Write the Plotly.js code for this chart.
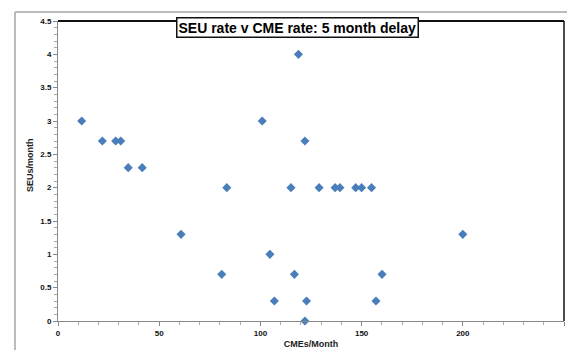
<!DOCTYPE html>
<html><head><meta charset="utf-8">
<script src="https://cdn.plot.ly/plotly-3.0.1.min.js"></script>
<style>html,body{margin:0;padding:0;background:#fff}#chart{width:567px;height:350px}</style>
</head><body><div id="chart"></div>
<script>
const cmeRate = [11.7, 21.9, 28.5, 31, 34.7, 41.6, 60.8, 80.9, 83.4, 100.9, 104.7, 106.9, 115.1, 116.8, 118.8, 122, 122, 122.8, 129, 136.9, 139.3, 147.1, 150, 154.9, 157.1, 160.1, 200];
const seuRate = [3.0, 2.7, 2.7, 2.7, 2.3, 2.3, 1.3, 0.7, 2.0, 3.0, 1.0, 0.3, 2.0, 0.7, 4.0, 2.7, 0.0, 0.3, 2.0, 2.0, 2.0, 2.0, 2.0, 2.0, 0.3, 0.7, 1.3];
const xTicks = [0, 50, 100, 150, 200, 250];
const yTicks = [0, 0.5, 1, 1.5, 2, 2.5, 3, 3.5, 4, 4.5];
const titleText = 'SEU rate v CME rate: 5 month delay';
const xTitle = 'CMEs/Month';
const yTitle = 'SEUs/month';

const trace = {
  x: cmeRate, y: seuRate, type: 'scatter', mode: 'markers',
  marker: {symbol: 'diamond', size: 7, color: '#4a7ebb'},
  cliponaxis: false, hoverinfo: 'none'
};
const fam = 'Liberation Sans, Arial, sans-serif';
const tickFont = {family: fam, size: 8, color: '#111', weight: 'bold'};
const layout = {
  width: 567, height: 350,
  margin: {l: 58, r: 3, t: 21, b: 29},
  paper_bgcolor: '#fff', plot_bgcolor: '#fff',
  showlegend: false,
  xaxis: {
    range: [0, 250], tickvals: xTicks, ticktext: xTicks.map(String),
    ticks: 'outside', ticklen: 4, tickcolor: '#888', tickwidth: 1,
    minor: {dtick: 10, ticks: 'outside', ticklen: 3, tickcolor: '#aaa'},
    showgrid: false, zeroline: false, showline: true, linecolor: '#888', linewidth: 1,
    tickfont: tickFont,
    title: {text: xTitle, font: {family: fam, size: 9, color: '#222', weight: 'bold'}, standoff: 4}
  },
  yaxis: {
    range: [0, 4.5], tickvals: yTicks, ticktext: yTicks.map(String),
    ticks: 'outside', ticklen: 4, tickcolor: '#888', tickwidth: 1,
    minor: {dtick: 0.1, ticks: 'outside', ticklen: 3, tickcolor: '#aaa'},
    showgrid: false, zeroline: false, showline: true, linecolor: '#888', linewidth: 1,
    tickfont: tickFont
  },
  shapes: [
    {type: 'line', xref: 'paper', yref: 'paper', x0: 0, x1: 1, y0: 1, y1: 1, line: {color: '#111', width: 2}},
    {type: 'line', xref: 'paper', yref: 'paper', x0: 1, x1: 1, y0: 0, y1: 1, line: {color: '#111', width: 1.5}},
    {type: 'line', xref: 'paper', yref: 'paper', x0: -0.085, x1: 1.01, y0: 1.03, y1: 1.03, line: {color: '#bbb', width: 2}},
    {type: 'line', xref: 'paper', yref: 'paper', x0: -0.085, x1: -0.085, y0: 1.03, y1: -0.1, line: {color: '#bbb', width: 2}}
  ],
  annotations: [{
    text: titleText, xref: 'paper', yref: 'paper', x: 0.473, y: 0.98,
    xanchor: 'center', yanchor: 'middle', showarrow: false,
    font: {family: fam, size: 14, color: '#000', weight: 'bold'},
    bgcolor: '#fff', bordercolor: '#111', borderwidth: 1.5, borderpad: 1
  }, {
    text: yTitle, xref: 'paper', yref: 'paper', x: -0.0553, y: 0.52,
    xanchor: 'center', yanchor: 'middle', showarrow: false, textangle: -90,
    font: {family: fam, size: 9, color: '#222', weight: 'bold'}
  }]
};
Plotly.newPlot('chart', [trace], layout, {displayModeBar: false, staticPlot: true});
</script>
</body></html>
